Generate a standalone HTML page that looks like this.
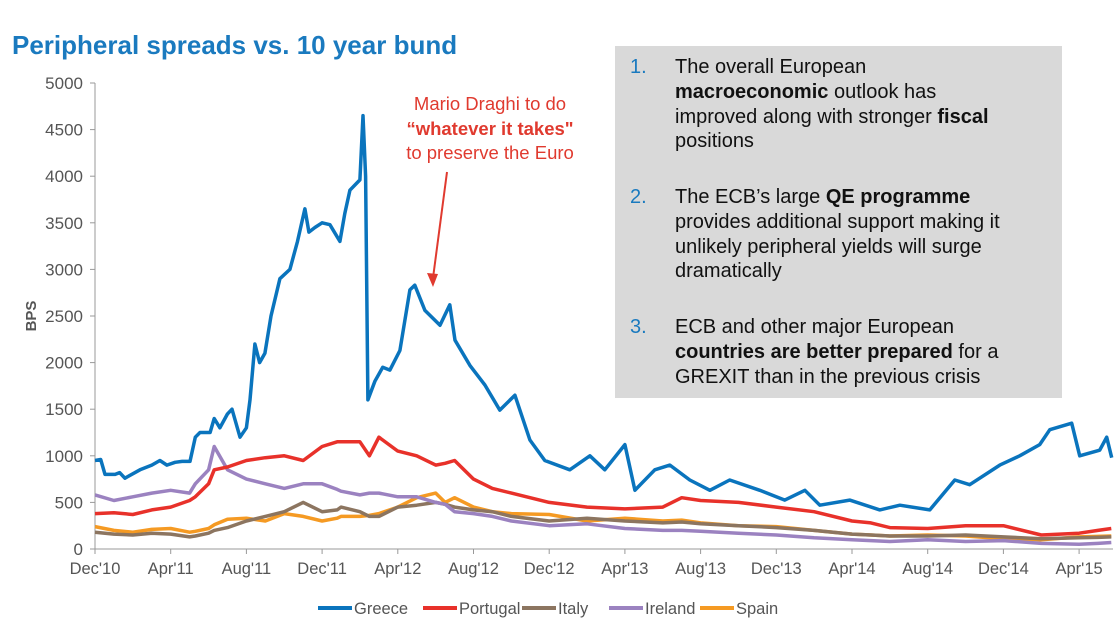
<!DOCTYPE html>
<html><head><meta charset="utf-8"><style>
body{margin:0;background:#fff;width:1115px;height:624px;overflow:hidden;font-family:"Liberation Sans",Arial,sans-serif}
svg text{font-family:"Liberation Sans",Arial,sans-serif}
</style></head><body>
<svg id="c" width="1115" height="624">
<text x="12" y="54" font-size="26" font-weight="bold" fill="#1a7abf">Peripheral spreads vs. 10 year bund</text>
<rect x="615" y="46" width="447" height="352" fill="#d9d9d9"/>
<g font-size="20" fill="#111">
<text x="630" y="73" fill="#1a7abf">1.</text>
<text x="675" y="73">The overall European</text>
<text x="675" y="98"><tspan font-weight="bold">macroeconomic</tspan> outlook has</text>
<text x="675" y="123">improved along with stronger <tspan font-weight="bold">fiscal</tspan></text>
<text x="675" y="147">positions</text>
<text x="630" y="203" fill="#1a7abf">2.</text>
<text x="675" y="203">The ECB’s large <tspan font-weight="bold">QE programme</tspan></text>
<text x="675" y="228">provides additional support making it</text>
<text x="675" y="253">unlikely peripheral yields will surge</text>
<text x="675" y="277">dramatically</text>
<text x="630" y="333" fill="#1a7abf">3.</text>
<text x="675" y="333">ECB and other major European</text>
<text x="675" y="358"><tspan font-weight="bold">countries are better prepared</tspan> for a</text>
<text x="675" y="383">GREXIT than in the previous crisis</text>
</g>
<g font-size="18.5" fill="#e03a2f" text-anchor="middle">
<text x="490" y="110">Mario Draghi to do</text>
<text x="490" y="135" font-weight="bold">“whatever it takes"</text>
<text x="490" y="159">to preserve the Euro</text>
</g>
<line x1="447" y1="172" x2="433" y2="278" stroke="#e03a2f" stroke-width="2"/>
<polygon points="427,273 433,287 438,274" fill="#e03a2f"/>
<g id="axes"></g>
<g id="series"></g>
<g id="legend"></g>
</svg>
<script>
const yTicks=[0,500,1000,1500,2000,2500,3000,3500,4000,4500,5000];
const xLabels=["Dec'10","Apr'11","Aug'11","Dec'11","Apr'12","Aug'12","Dec'12","Apr'13","Aug'13","Dec'13","Apr'14","Aug'14","Dec'14","Apr'15"];
const seriesNames=["Greece","Portugal","Italy","Ireland","Spain"];
const greeceMonths=[0,0.3,0.53,1.06,1.3,1.58,2.38,3.0,3.43,3.8,4.23,4.6,5.02,5.3,5.55,6.08,6.3,6.6,7.0,7.24,7.66,8.0,8.19,8.45,8.7,8.98,9.3,9.77,10.3,10.7,11.09,11.3,11.62,12.0,12.41,12.94,13.2,13.47,14.0,14.16,14.3,14.42,14.79,15.2,15.58,16.11,16.64,16.9,17.43,18.23,18.75,19.02,19.81,20.6,21.39,22.19,22.98,23.77,25.09,26.15,26.94,28.0,28.53,29.58,30.38,31.43,32.49,33.54,35.13,36.45,37.51,38.3,39.88,41.47,42.53,44.11,45.43,46.22,47.81,48.86,49.92,50.45,51.61,52.03,53.09,53.46,53.72];
const greeceVals=[950,960,800,800,820,760,850,900,950,900,930,940,940,1200,1250,1250,1400,1300,1450,1500,1200,1300,1600,2200,2000,2100,2500,2900,3000,3300,3650,3400,3450,3500,3480,3300,3600,3850,3960,4650,4000,1600,1800,1950,1920,2130,2780,2830,2560,2400,2620,2240,1970,1760,1490,1650,1170,950,850,1000,850,1120,630,850,900,740,630,740,630,525,630,470,525,420,470,420,740,690,900,1000,1120,1280,1350,1000,1060,1200,980];
const otherMonths=[0,1,2,3,4,5,5.3,6,6.3,7,8,9,10,11,12,12.8,13,14,14.5,15,16,17,18,18.5,19,20,21,22,24,26,28,30,31,32,34,36,38,40,41,42,44,46,48,50,52,53,53.7];
const portugalVals=[380,390,370,420,450,520,560,700,850,880,950,980,1000,950,1100,1150,1150,1150,1000,1200,1050,1000,900,920,950,750,650,600,500,450,430,450,550,520,500,450,400,300,280,230,220,250,250,150,170,200,220];
const italyVals=[180,160,150,170,160,130,140,170,200,230,300,350,400,500,400,420,450,400,350,350,450,470,500,480,450,420,400,350,300,330,300,280,290,270,250,230,200,160,150,140,140,150,130,110,120,125,130];
const irelandVals=[580,520,560,600,630,600,700,850,1100,850,750,700,650,700,700,640,620,580,600,600,560,560,500,480,400,380,350,300,250,270,220,200,200,190,170,150,120,100,90,80,100,80,90,60,50,60,70];
const spainVals=[240,200,180,210,220,180,190,220,260,320,330,300,380,350,300,330,350,350,360,380,450,550,600,500,550,450,400,380,370,300,330,300,310,280,250,240,200,160,150,140,150,140,110,100,130,135,140];
const colors=["#0a74bd","#e8312a","#8c7560","#9b82c0","#f59a23"];
const NS="http://www.w3.org/2000/svg";
const X0=95,MW=75.7/4,Y0=549,YS=(549-83)/5000;
const xS=m=>X0+m*MW, yS=v=>Y0-v*YS;
function mk(tag,attrs,parent){const e=document.createElementNS(NS,tag);for(const k in attrs)e.setAttribute(k,attrs[k]);parent.appendChild(e);return e;}
const ax=document.getElementById('axes');
let a=mk('line',{x1:X0,y1:yS(5000),x2:X0,y2:Y0,stroke:'#999'},ax);


a=mk('line',{x1:X0,y1:Y0,x2:1113,y2:Y0,stroke:'#999'},ax);


yTicks.forEach(v=>{
 mk('line',{x1:X0-5,x2:X0,y1:yS(v),y2:yS(v),stroke:'#999'},ax);
 const t=mk('text',{x:X0-12,y:yS(v)+6,'text-anchor':'end','font-size':17,fill:'#555'},ax);
 t.textContent=v;
 
 
});
xLabels.forEach((l,i)=>{
 const x=xS(i*4);
 mk('line',{x1:x,x2:x,y1:Y0,y2:Y0+5,stroke:'#999'},ax);
 const t=mk('text',{x:x,y:Y0+25,'text-anchor':'middle','font-size':16.5,fill:'#555'},ax);
 t.textContent=l;
 
 
});
const yt=mk('text',{x:36,y:316,'text-anchor':'middle','font-size':15,'font-weight':'bold',fill:'#555',transform:'rotate(-90 36 316)'},ax);
yt.textContent='BPS';


const sg=document.getElementById('series');
const data=[[greeceMonths,greeceVals],[otherMonths,portugalVals],[otherMonths,italyVals],[otherMonths,irelandVals],[otherMonths,spainVals]];
[4,2,3,1,0].forEach(i=>{
 const [ms,vs]=data[i];
 const p=mk('polyline',{points:ms.map((m,j)=>xS(m).toFixed(1)+','+yS(vs[j]).toFixed(1)).join(' '),fill:'none',stroke:colors[i],'stroke-width':3.5,'stroke-linejoin':'round'},sg);
 
 
});
const lg=document.getElementById('legend');
const lx=[318,423,522,609,700];
seriesNames.forEach((n,i)=>{
 const g=mk('g',{},lg);
 
 
 mk('line',{x1:lx[i],x2:lx[i]+34,y1:608,y2:608,stroke:colors[i],'stroke-width':4},g);
 const t=mk('text',{x:lx[i]+36,y:614,'font-size':16.5,fill:'#555'},g);
 t.textContent=n;
});
</script>
</body></html>
